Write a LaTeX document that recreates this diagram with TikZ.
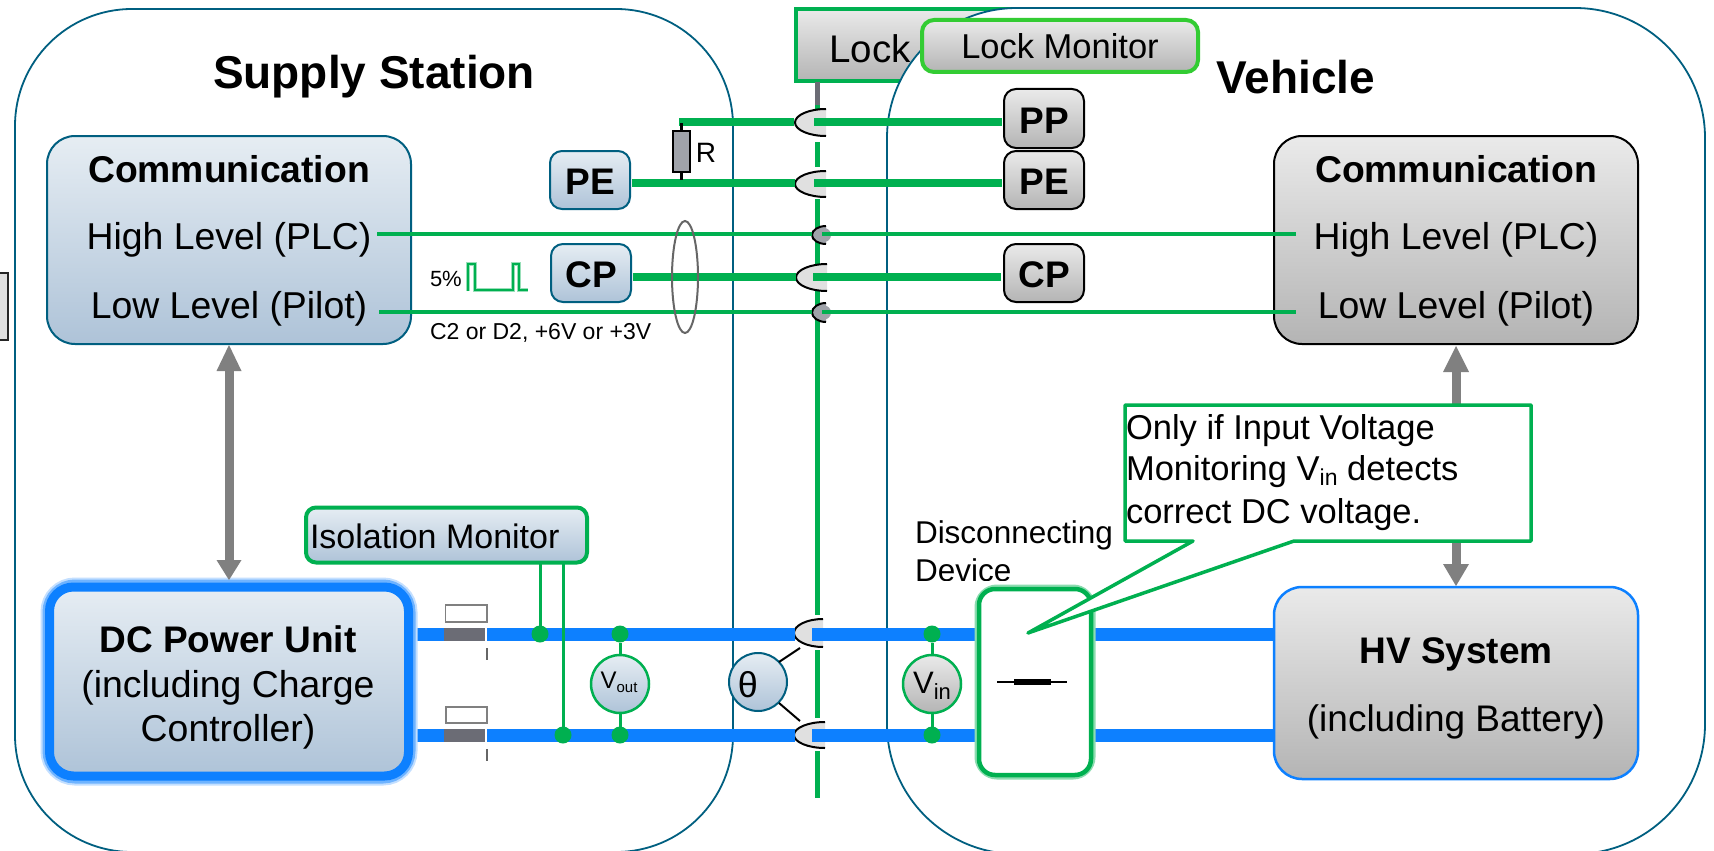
\documentclass[tikz,border=0pt]{standalone}
\usepackage{fontspec}
\setmainfont{Liberation Sans}
\definecolor{gw}{HTML}{00B050}
\definecolor{lg}{HTML}{33CC33}
\definecolor{bw}{HTML}{0D80FF}
\definecolor{teal}{HTML}{005F80}
\definecolor{blt}{HTML}{E6EDF3}
\definecolor{blb}{HTML}{AEC3D8}
\definecolor{grt}{HTML}{EAEAEA}
\definecolor{grb}{HTML}{B4B4B4}
\definecolor{sock}{HTML}{E0E0E0}
\definecolor{dsock}{HTML}{A0A3AA}
\definecolor{slate}{HTML}{6B6C75}
\tikzset{
 tx/.style={inner sep=0pt,outer sep=0pt,font=\fontsize{#1}{#1}\selectfont},
 txb/.style={inner sep=0pt,outer sep=0pt,font=\fontsize{#1}{#1}\selectfont\bfseries},
 box/.style={rectangle,inner sep=0pt,outer sep=0pt,rounded corners=#1},
 blubox/.style={box=#1,draw=teal,line width=2pt,top color=blt,bottom color=blb},
 grybox/.style={box=#1,draw=black,line width=2pt,top color=grt,bottom color=grb},
 area/.style={draw=teal,line width=1.8pt,fill=white,rounded corners=#1},
 thickw/.style={draw=gw,line width=8.5pt},
 thinw/.style={draw=gw,line width=5pt},
 power/.style={draw=bw,line width=13pt},
 sense/.style={draw=gw,line width=3pt},
 dot/.style={circle,fill=gw,inner sep=0pt,outer sep=0pt,minimum size=17pt},
 meter/.style={circle,inner sep=0pt,outer sep=0pt,minimum size=58pt},
 grayarrow/.style={draw=gray,line width=9pt},
}
\newcommand\socket[5]{% x1 x2 y1 y2 fill
 \fill[#5] (#2,#3) .. controls ({#2-0.55*(#2-#1)},#3) and (#1,{(#3+#4)/2-0.275*(#4-#3)}) .. (#1,{(#3+#4)/2}) .. controls (#1,{(#3+#4)/2+0.275*(#4-#3)}) and ({#2-0.55*(#2-#1)},#4) .. (#2,#4) -- cycle;
 \draw[black,line width=2pt] (#2,#3) .. controls ({#2-0.55*(#2-#1)},#3) and (#1,{(#3+#4)/2-0.275*(#4-#3)}) .. (#1,{(#3+#4)/2}) .. controls (#1,{(#3+#4)/2+0.275*(#4-#3)}) and ({#2-0.55*(#2-#1)},#4) .. (#2,#4);
}
\begin{document}
\begin{tikzpicture}[x=1pt,y=-1pt]
\useasboundingbox (0,0) rectangle (1714,851);
\clip (0,0) rectangle (1714,851);
\fill[white] (0,0) rectangle (1714,851);
% clipped box at left edge
\path[draw=black!85,line width=1.5pt,fill=sock] (-5,273) rectangle (8,340);
% areas
\path[area=117] (15,9) rectangle (733,852);
\node[rectangle,inner sep=0pt,outer sep=0pt,draw=gw,line width=4pt,top color=grt,bottom color=grb,minimum width=234pt,minimum height=72pt] (lock) at (913,45) {};
\node[tx=38.5,anchor=center] (locktxt) at (870,49) {Lock};
\path[area=130] (887,8) rectangle (1705,854);
\node[txb=46] (ss) at (374,77) {Supply Station};
\node[txb=46] (veh) at (1296,77) {Vehicle};
% vertical line, broken around the connector sockets
\coordinate (vt) at (817,105);
\coordinate (vb) at (817,798);
\draw[slate,line width=5pt] (817,82) -- (vt);
\draw[thinw] (vt) -- (817,110);
\draw[thinw] (817,142) -- (817,167);
\draw[thinw] (817,199) -- (817,292);
\draw[thinw] (817,292) -- (817,615);
\draw[thinw] (817,650) -- (817,718);
\draw[thinw] (817,751) -- (vb);
% sockets
\socket{795}{826}{109}{136}{sock}
\socket{795}{826}{171}{197}{sock}
\socket{796}{827}{264}{291}{sock}
\socket{812}{826}{226}{244}{dsock}
\fill[dsock] (824,235) circle (7);
\socket{812}{826}{303}{322}{dsock}
\fill[dsock] (824,312.5) circle (7);
\socket{794}{823}{619}{647}{sock}
\socket{794}{825}{722}{748}{sock}
% boxes left
\node[blubox=28,minimum width=364pt,minimum height=208pt] (cl) at (229,240) {};
\node[txb=37.3] (clt) at (229,169) {Communication};
\node[tx=37.4] (clh) at (229,240) {High Level (PLC)};
\node[tx=37.4] (cll) at (229,309) {Low Level (Pilot)};
\node[grybox=28,minimum width=364pt,minimum height=208pt] (cr) at (1456,240) {};
\node[txb=37.3] (crt) at (1456,169) {Communication};
\node[tx=37.4] (crh) at (1456,240) {High Level (PLC)};
\node[tx=37.4] (crl) at (1456,309) {Low Level (Pilot)};
\node[blubox=12,minimum width=80pt,minimum height=58pt] (pel) at (590,180) {};
\node[txb=37] (pelt) at (590,182) {PE};
\node[blubox=12,minimum width=80pt,minimum height=58pt] (cpl) at (591,273) {};
\node[txb=37] (cplt) at (591,275) {CP};
\node[grybox=12,minimum width=80pt,minimum height=59pt] (ppr) at (1044,118.5) {};
\node[txb=37] (pprt) at (1044,121) {PP};
\node[grybox=12,minimum width=80pt,minimum height=58pt] (per) at (1044,180) {};
\node[txb=37] (pert) at (1044,182) {PE};
\node[grybox=12,minimum width=80pt,minimum height=58pt] (cpr) at (1044,273) {};
\node[txb=37] (cprt) at (1044,275) {CP};
% signal wires
\coordinate (ppa) at (679,122);\coordinate (ppb) at (794,122);\coordinate (ppc) at (814,122);
\draw[thickw] (ppa) -- (ppb);
\draw[thickw,shorten >=2pt] (ppc) -- (ppr.west |- ppc);
\coordinate (pea) at (795,183);\coordinate (peb) at (814,183);
\draw[thickw,shorten <=2pt] (pel.east |- pea) -- (pea);
\draw[thickw,shorten >=2pt] (peb) -- (per.west |- peb);
\coordinate (cpa) at (796,277);\coordinate (cpb) at (813,277);
\draw[thickw,shorten <=2pt] (cpl.east |- cpa) -- (cpa);
\draw[thickw,shorten >=3pt] (cpb) -- (cpr.west |- cpb);
\coordinate (hl) at (377,234);\coordinate (hm) at (812,234);\coordinate (hn) at (822,234);\coordinate (hr) at (1296,234);
\coordinate (ll) at (379,312);\coordinate (lm) at (812,312);\coordinate (ln) at (822,312);\coordinate (lr) at (1296,312);
\draw[draw=gw,line width=4.5pt] (hl) -- (hm);\draw[draw=gw,line width=4.5pt] (hn) -- (hr);
\draw[draw=gw,line width=4.5pt] (ll) -- (lm);\draw[draw=gw,line width=4.5pt] (ln) -- (lr);
% resistor
\node[rectangle,draw=black,line width=2pt,fill=dsock,minimum width=17pt,minimum height=41pt,inner sep=0pt,outer sep=0pt] (res) at (681.5,151.5) {};
\draw[black,line width=3pt] (res.north) -- ++(0,-8);
\draw[black,line width=3pt] (res.south) -- ++(0,8);
\node[tx=28] (rt) at (706,153) {R};
% cable ellipse
\draw[black!60,line width=2pt] (685,277) ellipse [x radius=13pt,y radius=56pt];
% pulse
\node[tx=22,anchor=west] (pct) at (430,279) {5\%};
\draw[gw!40,line width=3.5pt] (468,291) -- (468,264) -- (475,264) -- (475,290) -- (513,290) -- (513,264) -- (519,264) -- (519,290) -- (528,290);
\draw[gw,line width=1.8pt] (468,291) -- (468,264) -- (475,264) -- (475,290) -- (513,290) -- (513,264) -- (519,264) -- (519,290) -- (528,290);
\node[tx=23,anchor=west] (c2) at (430,333) {C2 or D2, +6V or +3V};
% lock monitor
\node[box=12,draw=lg,line width=4pt,top color=grt,bottom color=grb,minimum width=276pt,minimum height=52pt] (lm2) at (1060,46) {};
\node[tx=34.5] (lm2t) at (1060,46) {Lock Monitor};
% power lines
\coordinate (pw1a) at (405,634);\coordinate (pw1b) at (795,634);\coordinate (pw1c) at (812,634);
\coordinate (pw2a) at (405,735);\coordinate (pw2b) at (795,735);\coordinate (pw2c) at (812,735);
\node[tx=31.5,anchor=west] (dd1) at (915,535) {Disconnecting};
\node[tx=31.5,anchor=west] (dd2) at (915,570) {Device};
\fill[white] (915,581) rectangle (1015,588);
% DC unit
\draw[power] (pw1a) -- (444,634);\draw[power] (pw2a) -- (444,735);
\draw[bw!25,line width=17pt,rounded corners=26pt] (49,586) rectangle (409,777);
\draw[bw!60,line width=13pt,rounded corners=26pt] (49,586) rectangle (409,777);
\node[box=24,draw=bw,line width=9pt,top color=blt,bottom color=blb,minimum width=359pt,minimum height=189pt] (dc) at (229,681.5) {};
\node[txb=37] (dct) at (228,639) {DC Power Unit};
\node[tx=37.4] (dcs) at (228,688) {(including Charge};
\node[tx=37.4] (dcu) at (228,732) {Controller)};
\draw[power] (487,634) -- (pw1b);\draw[power] (487,735) -- (pw2b);
\draw[power] (pw1c) -- (985,634);\draw[power] (pw2c) -- (985,735);
\draw[power] (1085,634.5) -- (1275,634.5);\draw[power] (1085,735) -- (1275,735);
\fill[slate] (444,627.5) rectangle (485,640.5);
\fill[slate] (444,729) rectangle (485,742);
\draw[black!50,fill=white,line width=1.2pt] (445.5,605) rectangle (487,622);
\draw[black!50,fill=white,line width=1.2pt] (446,707) rectangle (487,723);
\draw[black!60,line width=1.2pt] (487,648) -- (487,660);
\draw[black!60,line width=1.2pt] (487,749) -- (487,761);
% isolation monitor
\node[box=10,draw=gw,line width=4pt,top color=blt,bottom color=blb,minimum width=281pt,minimum height=55pt] (iso) at (446.5,535) {};
\node[tx=34,anchor=west] (isot) at (310,536) {Isolation Monitor};
\node[dot] (d1) at (540,634) {};
\node[dot] (d2) at (563,735) {};
\draw[sense] (iso.south -| d1) -- (d1);
\draw[sense] (iso.south -| d2) -- (d2);
\node[dot] (d3) at (620,634) {};
\node[dot] (d4) at (620,735) {};
\node[meter,draw=gw,line width=2.5pt,top color=blt,bottom color=blb] (vout) at (620,684) {};
\node[tx=24] (voutt) at (619,682) {V\raisebox{-4pt}{\fontsize{15}{15}\selectfont out}};
\draw[sense] (d3) -- (vout);\draw[sense] (d4) -- (vout);
% theta
\node[meter,draw=teal,line width=2pt,top color=blt,bottom color=blb] (th) at (758,682) {};
\node[tx=36] (tht) at (748,685) {θ};
\coordinate (ta) at (800,648);\coordinate (tb) at (800,721);
\coordinate (tha) at (779,662);\coordinate (thb) at (779,703);
\draw[black,line width=2pt] (tha) -- (ta);
\draw[black,line width=2pt] (thb) -- (tb);
% vin
\node[dot] (d5) at (932,634) {};
\node[dot] (d6) at (932,735) {};
\node[meter,draw=gw,line width=2.5pt,top color=grt,bottom color=grb] (vin) at (932,684) {};
\node[tx=31] (vint) at (932,686) {V\raisebox{-6pt}{\fontsize{22}{22}\selectfont in}};
\draw[sense] (d5) -- (vin);\draw[sense] (d6) -- (vin);
% disconnect device
\draw[gw!45,line width=9pt,rounded corners=18pt] (979,589) rectangle (1091,775);
\node[box=16,draw=gw,fill=white,line width=4.5pt,minimum width=112pt,minimum height=186pt] (disc) at (1035,682) {};
\coordinate (sa) at (997,682);\coordinate (sb) at (1067,682);
\draw[black,line width=2.5pt] (sa) -- (sb);
\draw[black,line width=5.5pt] (1014,682) -- (1051,682);
% HV
\node[grybox=28,draw=bw,line width=2.5pt,minimum width=364pt,minimum height=192pt] (hv) at (1456,683) {};
\node[txb=37] (hvt) at (1456,654) {HV System};
\node[tx=37] (hvs) at (1456,722) {(including Battery)};
% gray arrows
\draw[grayarrow] (229,371) -- (229,561);
\fill[gray] (229,345) -- (241.5,371) -- (216.5,371) -- cycle;
\fill[gray] (229,580) -- (241.5,560) -- (216.5,560) -- cycle;
\draw[grayarrow] (1456,371) -- (1456,565);
\fill[gray] (1456,346) -- (1469,372) -- (1443,372) -- cycle;
\fill[gray] (1456,586) -- (1469,564) -- (1443,564) -- cycle;
% callout
\draw[gw,line width=3.5pt,fill=white,line join=round] (1125,405) -- (1531,405) -- (1531,541) -- (1294,541) -- (1028,633) -- (1193,541) -- (1125,541) -- cycle;
\node[tx=34.5,anchor=west] (c1) at (1126,431) {Only if Input Voltage};
\node[tx=34.5,anchor=west] (c2b) at (1126,472) {Monitoring V\raisebox{-5pt}{\fontsize{23}{23}\selectfont in} detects};
\node[tx=34.5,anchor=west] (c3) at (1126,515) {correct DC voltage.};
\end{tikzpicture}
\end{document}
